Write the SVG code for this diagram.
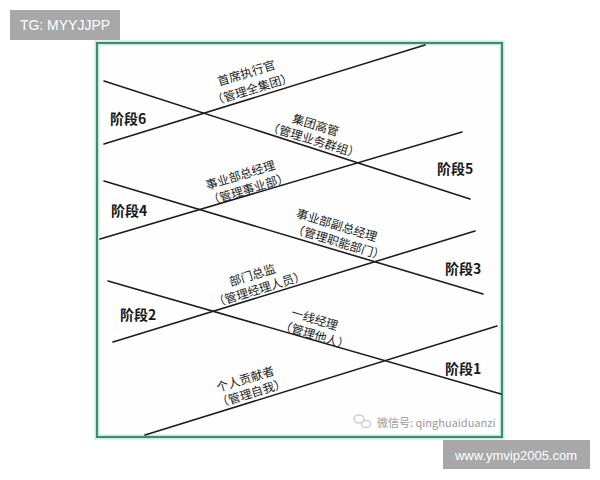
<svg xmlns="http://www.w3.org/2000/svg" width="600" height="480" viewBox="0 0 600 480">
<style>
.ln{stroke:#1c1c1c;stroke-width:1.6;fill:none;stroke-linecap:round}
.lb{font-family:"Noto Sans CJK SC","Noto Sans",sans-serif;font-size:12px;fill:#222;text-anchor:middle;dominant-baseline:central}
.st{font-family:"Noto Sans CJK SC","Noto Sans",sans-serif;font-size:14px;font-weight:bold;fill:#1a1a1a;dominant-baseline:central}
.wm{font-family:"Liberation Sans",Arial,sans-serif;fill:#fff;text-anchor:middle;dominant-baseline:central}
</style>
<rect width="600" height="480" fill="#fff"/>
<g id="tg-badge">
<rect x="10" y="10" width="110" height="30" fill="#a8a8a8"/>
<text class="wm" x="65" y="25" font-size="14">TG: MYYJJPP</text>
</g>
<g id="frame">
<rect x="97" y="43" width="405" height="394" fill="#fdfefd" stroke="#c4ebdc" stroke-width="5"/>
<rect x="97" y="43" width="405" height="394" fill="none" stroke="#3e8c6d" stroke-width="2"/>
</g>
<g id="connectors">
<line class="ln" x1="104" y1="144" x2="425" y2="45"/>
<line class="ln" x1="104" y1="81" x2="470" y2="199"/>
<line class="ln" x1="100" y1="239" x2="462" y2="132"/>
<line class="ln" x1="104" y1="181" x2="483" y2="294"/>
<line class="ln" x1="113" y1="342" x2="475" y2="231"/>
<line class="ln" x1="108" y1="281" x2="501" y2="394"/>
<line class="ln" x1="145" y1="435" x2="497" y2="326"/>
</g>
<g id="stage6"><text class="st" x="110" y="118">阶段6</text></g>
<g id="stage5"><text class="st" x="437" y="168">阶段5</text></g>
<g id="stage4"><text class="st" x="111" y="210">阶段4</text></g>
<g id="stage3"><text class="st" x="445" y="268">阶段3</text></g>
<g id="stage2"><text class="st" x="120" y="314">阶段2</text></g>
<g id="stage1"><text class="st" x="445" y="368">阶段1</text></g>
<g id="ceo">
<text class="lb" transform="translate(246,72) rotate(-17)">首席执行官</text>
<text class="lb" transform="translate(252,88) rotate(-17)">（管理全集团）</text>
</g>
<g id="group-exec">
<text class="lb" transform="translate(316,124) rotate(17)">集团高管</text>
<text class="lb" transform="translate(314,139) rotate(17)">（管理业务群组）</text>
</g>
<g id="bu-gm">
<text class="lb" transform="translate(240,174) rotate(-17)">事业部总经理</text>
<text class="lb" transform="translate(248,188) rotate(-17)">（管理事业部）</text>
</g>
<g id="bu-deputy">
<text class="lb" transform="translate(337,224) rotate(17)">事业部副总经理</text>
<text class="lb" transform="translate(339,241) rotate(17)">（管理职能部门）</text>
</g>
<g id="director">
<text class="lb" transform="translate(252,274) rotate(-17)">部门总监</text>
<text class="lb" transform="translate(259,288) rotate(-17)">（管理经理人员）</text>
</g>
<g id="line-manager">
<text class="lb" transform="translate(315,318) rotate(17)">一线经理</text>
<text class="lb" transform="translate(315,334) rotate(17)">（管理他人）</text>
</g>
<g id="contributor">
<text class="lb" transform="translate(245,378) rotate(-17)">个人贡献者</text>
<text class="lb" transform="translate(251,392) rotate(-17)">（管理自我）</text>
</g>
<g id="wechat-mark">
<ellipse cx="359" cy="419" rx="5" ry="4" fill="none" stroke="#cfcfcf" stroke-width="1.5"/>
<ellipse cx="366" cy="424" rx="4.5" ry="3.5" fill="none" stroke="#cfcfcf" stroke-width="1.5"/>
<text x="377" y="422" font-family="Noto Sans CJK SC,Noto Sans,sans-serif" font-size="11" fill="#9a9a9a" dominant-baseline="central">微信号: qinghuaiduanzi</text>
</g>
<g id="site-badge">
<rect x="443" y="440" width="147" height="29" fill="#a8a8a8"/>
<text class="wm" x="516" y="455" font-size="13">www.ymvip2005.com</text>
</g>
</svg>
